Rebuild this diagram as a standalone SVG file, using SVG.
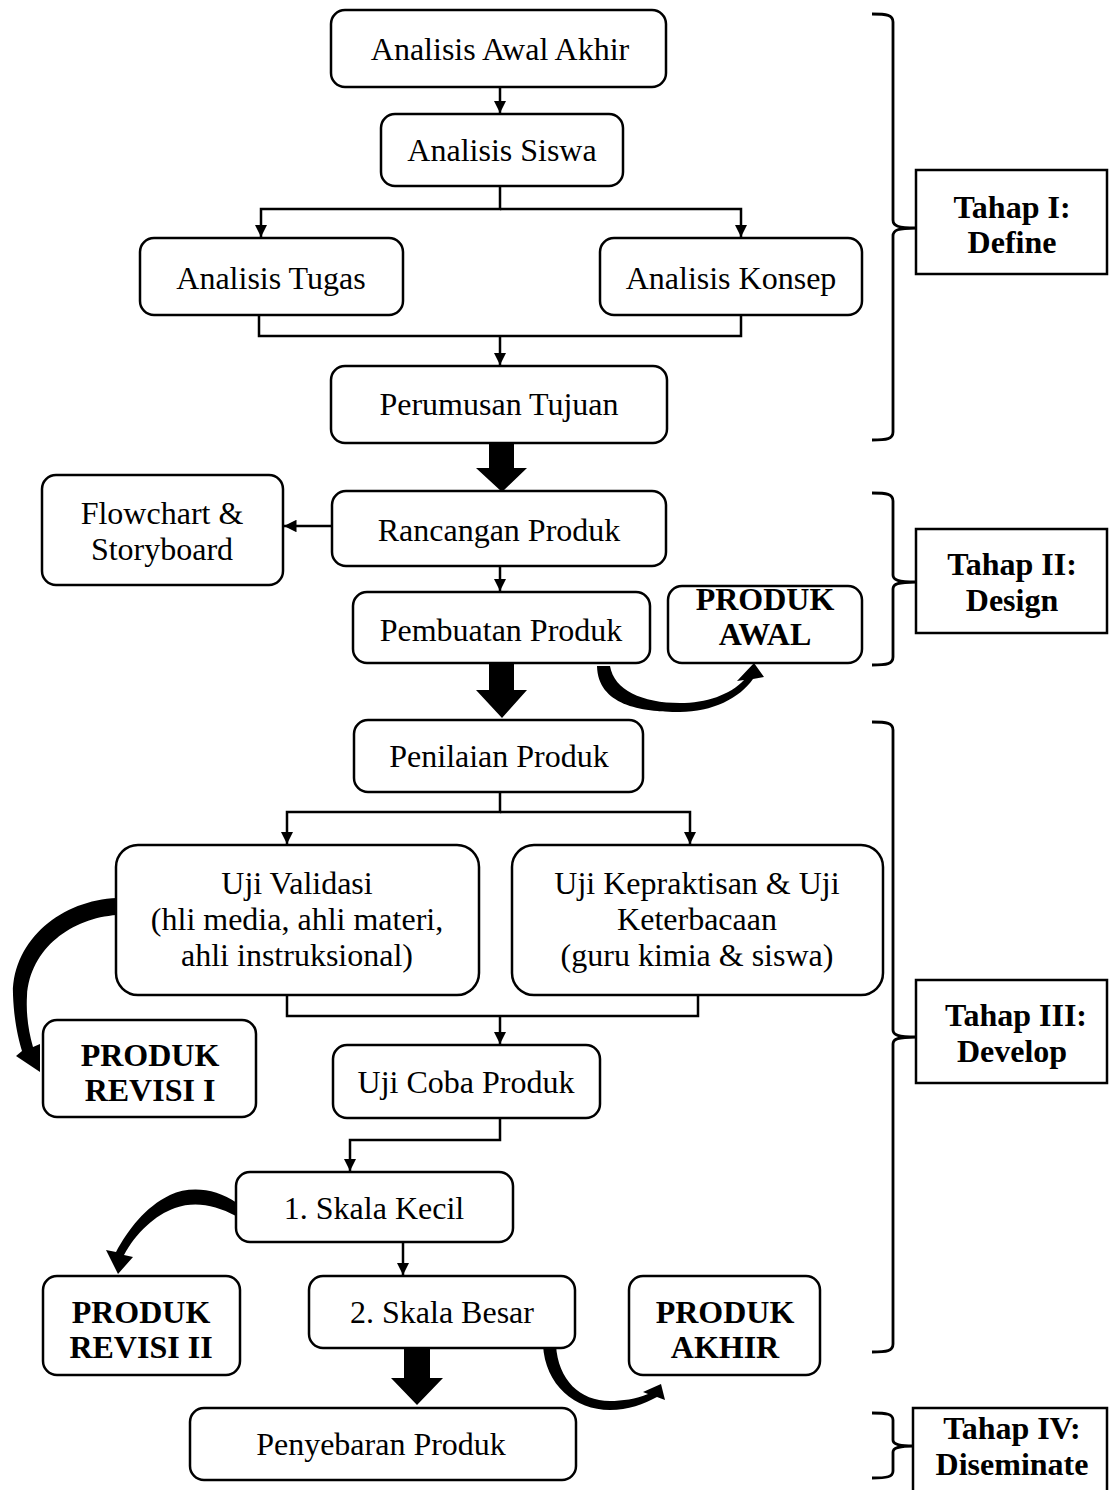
<svg xmlns="http://www.w3.org/2000/svg" width="1109" height="1490" viewBox="0 0 1109 1490">
<defs>
<style>
.n{fill:#fff;stroke:#000;stroke-width:2.5}
.t{font-family:"Liberation Serif","Times New Roman",serif;font-size:32px;fill:#000;text-anchor:middle}
.b{font-family:"Liberation Serif","Times New Roman",serif;font-size:32px;font-weight:bold;fill:#000;text-anchor:middle}
.c{fill:none;stroke:#000;stroke-width:2.5}
.br{fill:none;stroke:#000;stroke-width:2.8}
</style>
<marker id="ah" viewBox="0 0 10 10" refX="10" refY="5" markerWidth="5" markerHeight="5" markerUnits="strokeWidth" orient="auto">
<path d="M0,0 L10,5 L0,10 Z" fill="#000"/>
</marker>
</defs>
<rect width="1109" height="1490" fill="#fff"/>

<g id="connectors">
<path class="c" d="M500,87 V113" marker-end="url(#ah)"/>
<path class="c" d="M500,186 V209 H261 V237" marker-end="url(#ah)"/>
<path class="c" d="M500,209 H741 V237" marker-end="url(#ah)"/>
<path class="c" d="M259,315 V336 H741 V315"/>
<path class="c" d="M500,336 V365" marker-end="url(#ah)"/>
<path class="c" d="M332,526 H284" marker-end="url(#ah)"/>
<path class="c" d="M500,566 V591" marker-end="url(#ah)"/>
<path class="c" d="M500,792 V812 H287 V844" marker-end="url(#ah)"/>
<path class="c" d="M500,812 H690 V844" marker-end="url(#ah)"/>
<path class="c" d="M287,995 V1016 H698 V995"/>
<path class="c" d="M500,1016 V1044" marker-end="url(#ah)"/>
<path class="c" d="M500,1118 V1140 H350 V1171" marker-end="url(#ah)"/>
<path class="c" d="M403,1242 V1275" marker-end="url(#ah)"/>
<!-- block arrows -->
<path d="M489,443 H514 V468 H527 L502,492 L476,468 H489 Z" fill="#000"/>
<path d="M489,663 H514 V690 H527 L502,718 L476,690 H489 Z" fill="#000"/>
<path d="M404,1348 H430 V1378 H443 L417,1405 L391,1378 H404 Z" fill="#000"/>
<!-- curved arrows -->
<path d="M597,666 C598,705 640,712 680,712 C712,712 740,698 753,679 L764,677 L754,663 L737,681 L744,680 C730,695 706,703 680,703 C642,703 614,690 610,666 Z" fill="#000"/>
<path d="M117,898 C62,900 12,940 13,995 C14,1020 18,1038 22,1051 L16,1056 L40,1072 L40,1044 L33,1047 C28,1030 26,1012 27,996 C30,948 72,918 117,915 Z" fill="#000"/>
<path d="M237,1203 C215,1188 190,1186 170,1195 C145,1207 128,1230 116,1252 L106,1250 L118,1274 L133,1257 L124,1255 C136,1233 155,1215 175,1208 C195,1201 215,1205 236,1216 Z" fill="#000"/>
<path d="M543,1345 C545,1385 575,1410 610,1410 C628,1410 644,1404 657,1397 L665,1400 L661,1384 L643,1392 L648,1394 C636,1399 622,1401 610,1401 C580,1401 558,1380 556,1345 Z" fill="#000"/>
<!-- braces -->
<path class="br" d="M872,14 C887,14 893,15 893,22 V220 C893,226 898,228 916,228 C898,228 893,230 893,236 V432 C893,439 887,440 872,440"/>
<path class="br" d="M872,493 C887,493 893,494 893,501 V575 C893,580 898,582 916,582 C898,582 893,584 893,589 V657 C893,664 887,665 872,665"/>
<path class="br" d="M872,722 C887,722 893,723 893,730 V1030 C893,1035 898,1037 916,1037 C898,1037 893,1039 893,1044 V1344 C893,1351 887,1352 872,1352"/>
<path class="br" d="M872,1413 C887,1413 893,1414 893,1420 V1440 C893,1444 898,1446 913,1446 C898,1446 893,1448 893,1452 V1471 C893,1477 887,1478 872,1478"/>
</g>

<g id="n1"><rect class="n" x="331" y="10" width="335" height="77" rx="14"/><text class="t" x="500" y="60">Analisis Awal Akhir</text></g>
<g id="n2"><rect class="n" x="381" y="114" width="242" height="72" rx="14"/><text class="t" x="502" y="161">Analisis Siswa</text></g>
<g id="n3"><rect class="n" x="140" y="238" width="263" height="77" rx="14"/><text class="t" x="271" y="289">Analisis Tugas</text></g>
<g id="n4"><rect class="n" x="600" y="238" width="262" height="77" rx="14"/><text class="t" x="731" y="289">Analisis Konsep</text></g>
<g id="n5"><rect class="n" x="331" y="366" width="336" height="77" rx="14"/><text class="t" x="499" y="415">Perumusan Tujuan</text></g>
<g id="n6"><rect class="n" x="42" y="475" width="241" height="110" rx="14"/><text class="t" x="162" y="524">Flowchart &amp;</text><text class="t" x="162" y="560">Storyboard</text></g>
<g id="n7"><rect class="n" x="332" y="491" width="334" height="75" rx="14"/><text class="t" x="499" y="541">Rancangan Produk</text></g>
<g id="n8"><rect class="n" x="353" y="592" width="297" height="71" rx="14"/><text class="t" x="501" y="641">Pembuatan Produk</text></g>
<g id="n9"><rect class="n" x="668" y="586" width="194" height="77" rx="14"/><text class="b" x="765" y="610">PRODUK</text><text class="b" x="765" y="645">AWAL</text></g>
<g id="n10"><rect class="n" x="354" y="720" width="289" height="72" rx="14"/><text class="t" x="499" y="767">Penilaian Produk</text></g>
<g id="n11"><rect class="n" x="116" y="845" width="363" height="150" rx="22"/><text class="t" x="297" y="894">Uji Validasi</text><text class="t" x="297" y="930">(hli media, ahli materi,</text><text class="t" x="297" y="966">ahli instruksional)</text></g>
<g id="n12"><rect class="n" x="512" y="845" width="371" height="150" rx="22"/><text class="t" x="697" y="894">Uji Kepraktisan &amp; Uji</text><text class="t" x="697" y="930">Keterbacaan</text><text class="t" x="697" y="966">(guru kimia &amp; siswa)</text></g>
<g id="n13"><rect class="n" x="43" y="1020" width="213" height="97" rx="14"/><text class="b" x="150" y="1066">PRODUK</text><text class="b" x="150" y="1101">REVISI I</text></g>
<g id="n14"><rect class="n" x="333" y="1045" width="267" height="73" rx="14"/><text class="t" x="466" y="1093">Uji Coba Produk</text></g>
<g id="n15"><rect class="n" x="236" y="1172" width="277" height="70" rx="14"/><text class="t" x="374" y="1219">1. Skala Kecil</text></g>
<g id="n16"><rect class="n" x="43" y="1276" width="197" height="99" rx="14"/><text class="b" x="141" y="1323">PRODUK</text><text class="b" x="141" y="1358">REVISI II</text></g>
<g id="n17"><rect class="n" x="309" y="1276" width="266" height="72" rx="14"/><text class="t" x="442" y="1323">2. Skala Besar</text></g>
<g id="n18"><rect class="n" x="629" y="1276" width="191" height="99" rx="14"/><text class="b" x="725" y="1323">PRODUK</text><text class="b" x="725" y="1358">AKHIR</text></g>
<g id="n19"><rect class="n" x="190" y="1408" width="386" height="72" rx="14"/><text class="t" x="381" y="1455">Penyebaran Produk</text></g>

<g id="tahap1"><rect class="n" x="916" y="170" width="191" height="104"/><text class="b" x="1012" y="218">Tahap I:</text><text class="b" x="1012" y="253">Define</text></g>
<g id="tahap2"><rect class="n" x="916" y="529" width="191" height="104"/><text class="b" x="1012" y="575">Tahap II:</text><text class="b" x="1012" y="611">Design</text></g>
<g id="tahap3"><rect class="n" x="916" y="980" width="191" height="103"/><text class="b" x="1016" y="1026">Tahap III:</text><text class="b" x="1012" y="1062">Develop</text></g>
<g id="tahap4"><rect class="n" x="913" y="1408" width="194" height="100"/><text class="b" x="1012" y="1439">Tahap IV:</text><text class="b" x="1012" y="1475">Diseminate</text></g>
</svg>
